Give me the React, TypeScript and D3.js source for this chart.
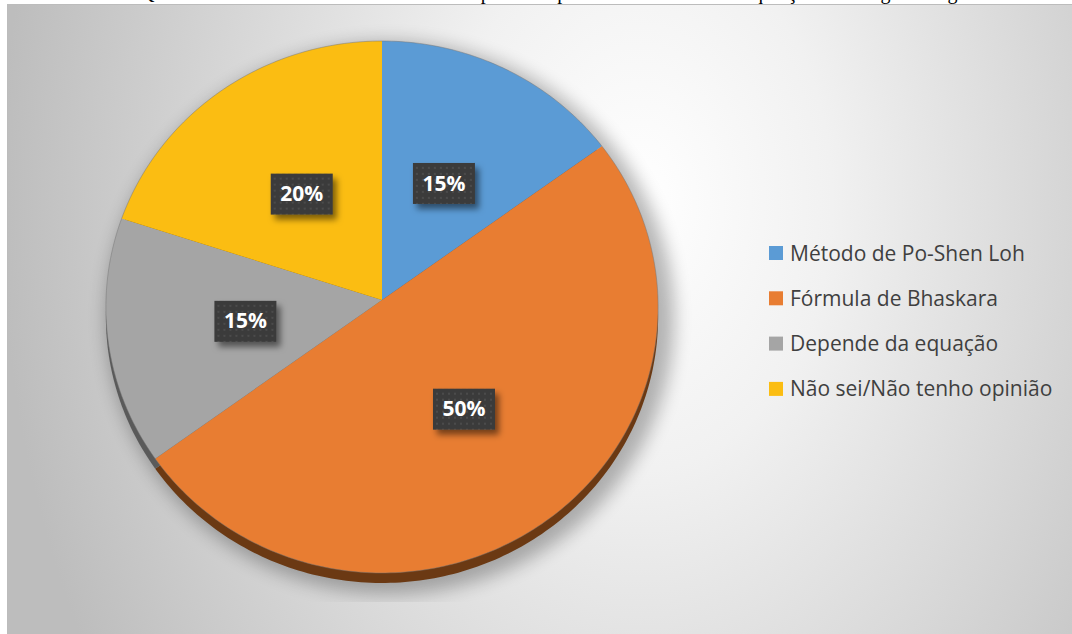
import React, { useEffect, useRef } from "react";
import * as d3 from "d3";

const categories = [
  "Método de Po-Shen Loh",
  "Fórmula de Bhaskara",
  "Depende da equação",
  "Não sei/Não tenho opinião",
];
const shares = [15, 50, 15, 20];
const percentLabels = ["15%", "50%", "15%", "20%"];
const colors = ["#5b9bd5", "#e87d32", "#a5a5a5", "#fbbd12"];
const sideColors = ["#2f5f8c", "#6b3913", "#5a5a5a", "#8a6500"];
const title =
  "Qual método você considera mais prático para resolver uma equação do segundo grau?";

export default function App() {
  const ref = useRef<SVGSVGElement>(null);

  useEffect(() => {
    const width = 1072;
    const height = 634;
    const svg = d3.select(ref.current);
    svg.selectAll("*").remove();

    const defs = svg.append("defs");
    const bg = defs
      .append("radialGradient")
      .attr("id", "bg")
      .attr("gradientUnits", "userSpaceOnUse")
      .attr("cx", 0)
      .attr("cy", 0)
      .attr("r", 1)
      .attr("gradientTransform", "translate(640,200) scale(640,900)");
    bg.append("stop").attr("offset", 0).attr("stop-color", "#ffffff");
    bg.append("stop").attr("offset", 0.3).attr("stop-color", "#f1f1f1");
    bg.append("stop").attr("offset", 1).attr("stop-color", "#bdbdbd");

    const blur = defs.append("filter").attr("id", "blur").attr("x", "-20%").attr("y", "-20%").attr("width", "140%").attr("height", "140%");
    blur.append("feGaussianBlur").attr("stdDeviation", 9);

    const boxShadow = defs.append("filter").attr("id", "boxShadow").attr("x", "-30%").attr("y", "-30%").attr("width", "170%").attr("height", "170%");
    boxShadow.append("feDropShadow").attr("dx", 4).attr("dy", 5).attr("stdDeviation", 3).attr("flood-color", "#000").attr("flood-opacity", 0.5);

    const dots = defs.append("pattern").attr("id", "dots").attr("patternUnits", "userSpaceOnUse").attr("width", 6).attr("height", 6);
    dots.append("rect").attr("width", 6).attr("height", 6).attr("fill", "#3b3b3b");
    dots.append("circle").attr("cx", 3).attr("cy", 3).attr("r", 1).attr("fill", "#505050");

    defs.append("clipPath").attr("id", "shadowClip")
      .append("rect").attr("x", 0).attr("y", 0).attr("width", width).attr("height", 602);

    // title (cut off at the top of the picture, as in the source)
    svg.append("text")
      .attr("x", 140)
      .attr("y", -1)
      .attr("textLength", 860)
      .attr("lengthAdjust", "spacing")
      .style("font-family", "'Liberation Serif', serif")
      .style("font-size", "20px")
      .attr("fill", "#000")
      .text(title);

    // chart area
    svg.append("rect")
      .attr("x", 7.5)
      .attr("y", 4.5)
      .attr("width", width + 10)
      .attr("height", height + 10)
      .attr("fill", "url(#bg)")
      .attr("stroke", "#bcbcbc")
      .attr("stroke-width", 1);

    // tilted pie: the unit circle is put in perspective
    const cx = 382;
    const cy = 300;
    const A = 276;
    const B = 265.8;
    const k = -0.0263;
    const depth = 10;
    const project = (r: number, a: number): [number, number] => {
      const u = r * Math.sin(a);
      const v = -r * Math.cos(a);
      const den = 1 + k * v;
      return [cx + (A * u) / den, cy + (B * v) / den];
    };

    const pie = d3.pie<number>().sort(null).value((d) => d);
    const arcs = pie(shares);
    const line = d3.line();
    const slicePath = (d: d3.PieArcDatum<number>) => {
      const n = Math.max(2, Math.ceil(((d.endAngle - d.startAngle) * 180) / Math.PI));
      const pts: [number, number][] = [[cx, cy]];
      d3.range(n + 1).forEach((i) => {
        pts.push(project(1, d.startAngle + ((d.endAngle - d.startAngle) * i) / n));
      });
      return line(pts) + "Z";
    };

    // soft shadow
    svg.append("g")
      .attr("clip-path", "url(#shadowClip)")
      .append("ellipse")
      .attr("cx", cx + 8)
      .attr("cy", 318)
      .attr("rx", 284)
      .attr("ry", 276)
      .attr("fill", "#000")
      .attr("opacity", 0.28)
      .attr("filter", "url(#blur)");

    // side of the 3D pie
    svg.append("g")
      .attr("transform", `translate(0,${depth})`)
      .selectAll("path")
      .data(arcs)
      .join("path")
      .attr("d", slicePath)
      .attr("fill", (_, i) => sideColors[i]);

    // top face
    svg.append("g")
      .selectAll("path")
      .data(arcs)
      .join("path")
      .attr("d", slicePath)
      .attr("fill", (_, i) => colors[i]);

    const rimPts = d3.range(361).map((i) => project(1, (i * Math.PI) / 180));
    svg.append("path")
      .attr("d", line(rimPts))
      .attr("fill", "none")
      .attr("stroke", "#777")
      .attr("stroke-opacity", 0.6)
      .attr("stroke-width", 0.8);

    // data labels
    const labels = svg.append("g")
      .selectAll("g")
      .data(arcs)
      .join("g")
      .attr("transform", (d) => {
        const [x, y] = project(0.5, (d.startAngle + d.endAngle) / 2);
        return `translate(${x},${y})`;
      });
    labels.append("rect")
      .attr("x", -31)
      .attr("y", -20)
      .attr("width", 62)
      .attr("height", 41)
      .attr("fill", "url(#dots)")
      .attr("filter", "url(#boxShadow)");
    labels.append("text")
      .attr("text-anchor", "middle")
      .attr("dy", "0.36em")
      .attr("fill", "#fff")
      .style("font-family", "'Open Sans', sans-serif")
      .style("font-weight", 700)
      .style("font-size", "21px")
      .text((_, i) => percentLabels[i]);

    // legend
    const legend = svg.append("g")
      .selectAll("g")
      .data(categories)
      .join("g")
      .attr("transform", (_, i) => `translate(769,${253 + i * 45.3})`);
    legend.append("rect")
      .attr("x", 0)
      .attr("y", -7)
      .attr("width", 14)
      .attr("height", 14)
      .attr("fill", (_, i) => colors[i]);
    legend.append("text")
      .attr("x", 21)
      .attr("dy", "0.36em")
      .attr("fill", "#3f3f3f")
      .style("font-family", "'Open Sans', sans-serif")
      .style("font-size", "21px")
      .text((d) => d);
  }, []);

  return (
    <svg
      ref={ref}
      width={1072}
      height={634}
      style={{ position: "absolute", left: 0, top: 0, display: "block" }}
    />
  );
}
